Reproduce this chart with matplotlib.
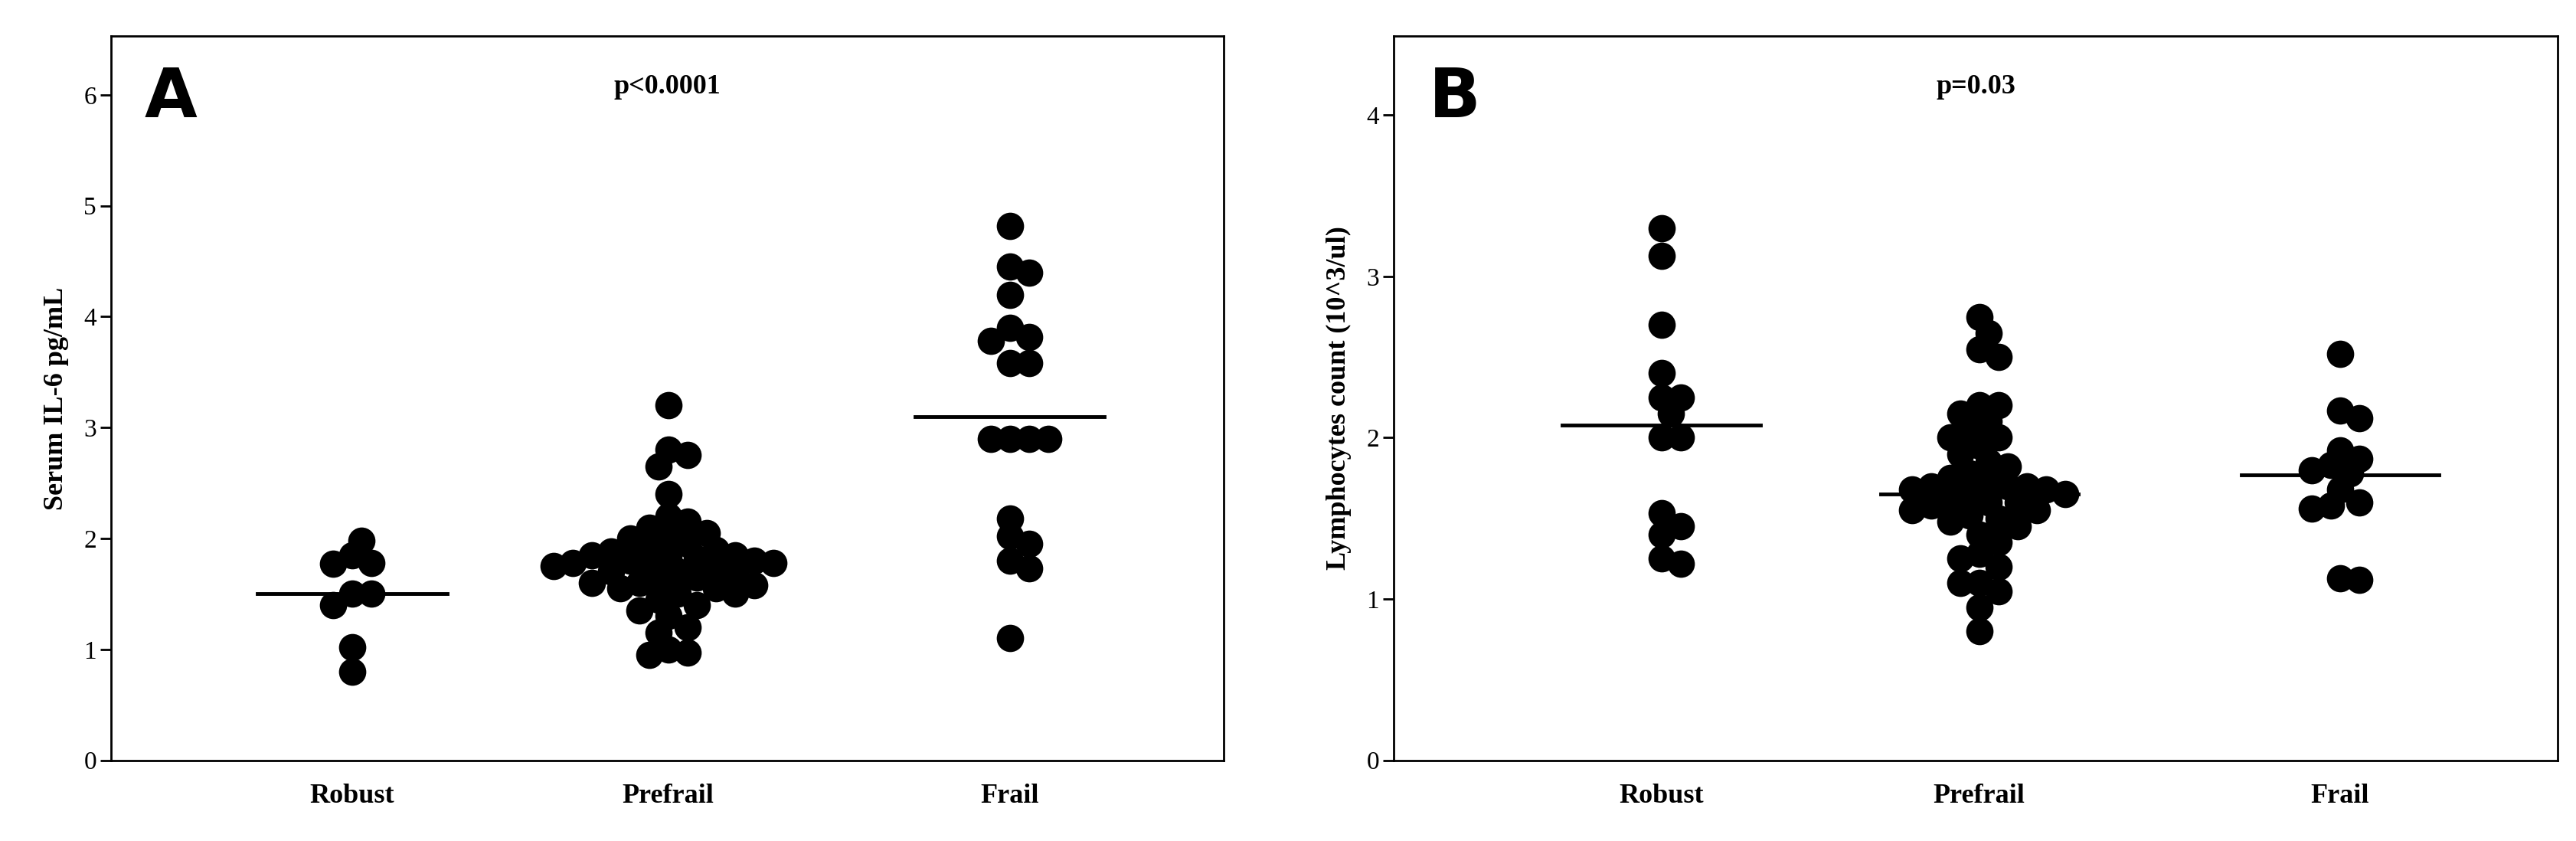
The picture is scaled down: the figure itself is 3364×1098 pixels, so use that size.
import numpy as np
import matplotlib.pyplot as plt

groups = ["Robust", "Prefrail", "Frail"]

il6_robust = [1.85, 1.78, 1.77, 1.98, 1.5, 1.5, 1.4, 1.02, 0.8]
il6_prefrail = [3.2, 2.8, 2.75, 2.65, 2.4, 2.2, 2.15, 2.1, 2.05, 2.0, 2.0, 1.95, 1.92, 1.9,
                1.88, 1.85, 1.85, 1.83, 1.82, 1.8, 1.8, 1.78, 1.78, 1.75, 1.75, 1.72, 1.7,
                1.7, 1.68, 1.65, 1.62, 1.6, 1.6, 1.58, 1.55, 1.55, 1.5, 1.5, 1.45, 1.4,
                1.35, 1.3, 1.2, 1.15, 1.0, 0.97, 0.95]
il6_frail = [4.82, 4.45, 4.4, 4.2, 3.9, 3.82, 3.78, 3.58, 3.58, 2.9, 2.9, 2.9, 2.9,
             2.18, 2.02, 1.95, 1.8, 1.73, 1.1]
il6_median = [1.5, 1.78, 3.1]

ly_robust = [3.3, 3.13, 2.7, 2.4, 2.25, 2.25, 2.15, 2.0, 2.0, 1.53, 1.45, 1.4, 1.25, 1.22]
ly_prefrail = [2.75, 2.65, 2.55, 2.5, 2.2, 2.2, 2.15, 2.1, 2.05, 2.0, 2.0, 1.95, 1.9, 1.85,
               1.82, 1.78, 1.75, 1.72, 1.7, 1.7, 1.7, 1.68, 1.68, 1.65, 1.65, 1.62, 1.6,
               1.6, 1.58, 1.55, 1.55, 1.52, 1.5, 1.48, 1.45, 1.4, 1.35, 1.28, 1.25, 1.2,
               1.1, 1.1, 1.05, 0.95, 0.8]
ly_frail = [2.52, 2.17, 2.12, 1.92, 1.87, 1.83, 1.8, 1.78, 1.68, 1.6, 1.58, 1.56, 1.13, 1.12]
ly_median = [2.08, 1.65, 1.77]

plt.rcParams['font.family'] = ['Liberation Serif', 'DejaVu Serif']

fig = plt.figure(figsize=(33.64, 10.98), dpi=100)
axA = fig.add_axes([0.043, 0.096, 0.432, 0.861])
axB = fig.add_axes([0.541, 0.096, 0.452, 0.861])

MS = 660  # marker area in pt^2
diam_px = np.sqrt(MS) / 72 * 100
MIN_D = 0.62 * diam_px  # markers may overlap a bit, like the original


def swarm(ax, x0, ys):
    # simple beeswarm in pixel space
    pts = []
    out = []
    for y in ys:
        px, py = ax.transData.transform((x0, y))
        placed = None
        for k in range(0, 80):
            for sgn in ([1] if k == 0 else [1, -1]):
                cx = px + sgn * k * diam_px * 0.35
                if all((cx - qx) ** 2 + (py - qy) ** 2 >= MIN_D ** 2 for qx, qy in pts):
                    placed = cx
                    break
            if placed is not None:
                break
        pts.append((placed, py))
        out.append(ax.transData.inverted().transform((placed, py))[0])
    return out


def panel(ax, data, medians, pos, ylim, yticks, ylabel, letter, ptext):
    ax.set_xlim(0, 1)
    ax.set_ylim(*ylim)
    for x0, ys, m in zip(pos, data, medians):
        xs = swarm(ax, x0, ys)
        ax.scatter(xs, ys, s=MS, color='black', zorder=3, linewidths=0)
        ax.plot([x0 - 0.085, x0 + 0.085], [m, m], color='black', lw=3.5, zorder=4)
    ax.set_yticks(yticks)
    ax.set_xticks(pos)
    ax.set_xticklabels(groups, fontsize=26, fontweight='bold')
    ax.tick_params(axis='x', length=0, pad=22)
    ax.tick_params(axis='y', labelsize=24, length=10, width=2)
    ax.set_ylabel(ylabel, fontsize=26, fontweight='bold', labelpad=14)
    for s in ax.spines.values():
        s.set_linewidth(2)
    ax.text(0.03, 0.96, letter, transform=ax.transAxes, fontsize=64, fontweight='bold',
            family='DejaVu Sans', va='top', ha='left')
    ax.text(0.5, 0.93, ptext, transform=ax.transAxes, fontsize=26, fontweight='bold',
            va='center', ha='center')


panel(axA, [il6_robust, il6_prefrail, il6_frail], il6_median, [0.217, 0.501, 0.808],
      (0, 6.53), range(0, 7), "Serum IL-6 pg/mL", "A", "p<0.0001")
panel(axB, [ly_robust, ly_prefrail, ly_frail], ly_median, [0.23, 0.503, 0.813],
      (0, 4.49), range(0, 5), "Lymphocytes count (10^3/ul)", "B", "p=0.03")

fig.savefig("out.png", dpi=100)
